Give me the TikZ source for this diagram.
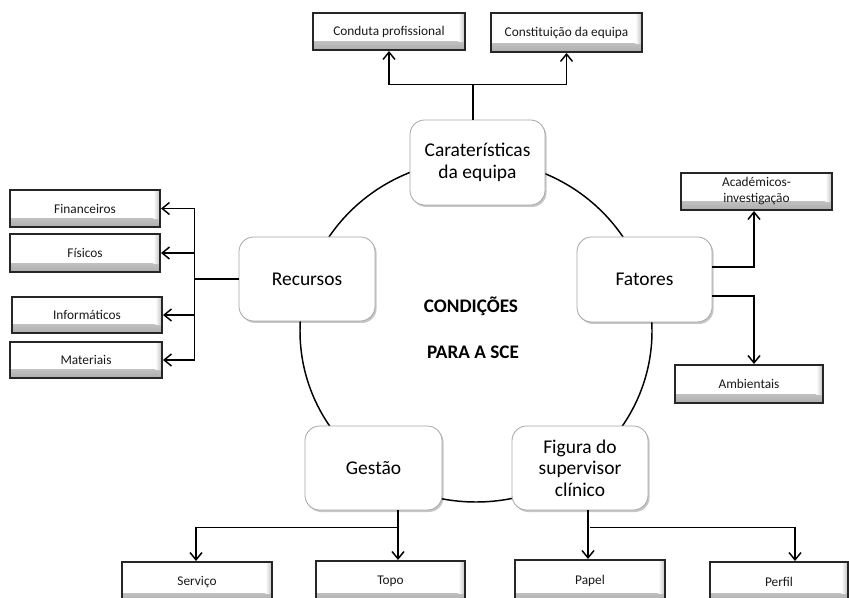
\documentclass[tikz,border=0pt]{standalone}
\usepackage{fontspec}
\setmainfont{Carlito}
\usetikzlibrary{arrows.meta,shadows,calc}

\begin{document}
\begin{tikzpicture}[x=0.75pt,y=-0.75pt,
  every node/.style={inner sep=0pt, align=center},
  topic/.style={draw=black!35, line width=0.6pt, fill=white, rounded corners=11pt,
    font=\fontsize{14.6}{16}\selectfont,
    drop shadow={shadow xshift=1.2pt, shadow yshift=-1.5pt, opacity=0.22, fill=black}},
  leaf/.style={draw=black!85, line width=1.5pt, fill=white, text=black!90,
    font=\fontsize{10}{12}\selectfont,
    path picture={
      \shade[top color=white, bottom color=black!32]
        ([yshift=6.5pt]path picture bounding box.south west) rectangle (path picture bounding box.south east);
      \shade[left color=white, right color=black!25]
        ([xshift=-5pt]path picture bounding box.north east) rectangle ([yshift=6.5pt]path picture bounding box.south east);
    }},
  link/.style={line width=1.1pt},
  arr/.style={line width=1.1pt, -{Straight Barb[length=5.5pt,width=9pt,line width=1.1pt]}},
]
\useasboundingbox (0,0) rectangle (849,598);
\fill[white] (0,0) rectangle (849,598);
\clip (0,0) rectangle (849,598);

% ring joining the five conditions
\draw[link] (476,331) ellipse [x radius=132pt, y radius=128.25pt];

% centre title
\node[font=\bfseries\fontsize{14.4}{16}\selectfont] (t1) at (471,306) {CONDIÇÕES};
\node[font=\bfseries\fontsize{14.4}{16}\selectfont] (t2) at (473,352) {PARA A SCE};

% main topics
\node[topic, minimum width=101.25pt, minimum height=63.75pt] (carat) at (477.5,162.5) {Caraterísticas\\da equipa};
\node[topic, minimum width=102pt, minimum height=63pt] (recursos) at (307,279) {Recursos};
\node[topic, minimum width=101.25pt, minimum height=63.75pt] (fatores) at (644.5,279.5) {Fatores};
\node[topic, minimum width=102.75pt, minimum height=63pt] (gestao) at (373.5,468) {Gestão};
\node[topic, minimum width=102pt, minimum height=63pt] (figura) at (580,468) {Figura do\\supervisor\\clínico};

% sub-items
\node[leaf, minimum width=114pt, minimum height=27.75pt] (conduta) at (389,31.5) {Conduta profissional};
\node[leaf, minimum width=113.25pt, minimum height=29.25pt] (constit) at (566.5,32.5) {Constituição da equipa};

\node[leaf, minimum width=112.5pt, minimum height=27.75pt] (financ) at (85,208.5) {Financeiros};
\node[leaf, minimum width=112.5pt, minimum height=28.5pt] (fisicos) at (85,253) {Físicos};
\node[leaf, minimum width=112.5pt, minimum height=27pt] (inform) at (87,315) {Informáticos};
\node[leaf, minimum width=114pt, minimum height=27pt] (mater) at (86,360) {Materiais};

\node[leaf, minimum width=113.25pt, minimum height=27.75pt] (academ) at (756.5,191.5) {Académicos-\\investigação};
\node[leaf, minimum width=111pt, minimum height=28.5pt] (ambient) at (749,384) {Ambientais};

\node[leaf, minimum width=112.5pt, minimum height=30pt] (servico) at (197,582) {Serviço};
\node[leaf, minimum width=111.75pt, minimum height=30.75pt] (topo) at (390.5,581.5) {Topo};
\node[leaf, minimum width=112.5pt, minimum height=31.5pt] (papel) at (590,581) {Papel};
\node[leaf, minimum width=103.5pt, minimum height=30pt] (perfil) at (779,582) {Perfil};

% Caraterísticas da equipa
\draw[link] (carat.north) ++(-4.5,0) -- ++(0,-35) coordinate (cj);
\draw[arr] (cj) -| (conduta.south);
\draw[arr] (cj) -| (constit.south);

% Recursos
\draw[link] (recursos.west) -- ++(-44,0) coordinate (rj);
\draw[link] (rj |- financ.east) -- (rj |- mater.east);
\foreach \n in {financ,fisicos,inform,mater}
  \draw[arr] (rj |- \n.east) -- (\n.east);

% Fatores
\draw[arr] ($(fatores.east)+(0,-12.5)$) -| ([xshift=-1.9pt]academ.south);
\draw[arr] ($(fatores.east)+(0,16.5)$) -| ([xshift=3.75pt]ambient.north);

% Gestão
\draw[link] (gestao.south) ++(24.5,0) coordinate (gs) -- ++(0,17) coordinate (gj);
\draw[arr] (gj) -- (gj |- topo.north);
\draw[arr] (gj) -| ([xshift=-0.75pt]servico.north);

% Figura do supervisor clínico
\path (figura.south) ++(8,0) coordinate (fs);
\draw[arr] (fs) -- (fs |- papel.north);
\draw[arr] ($(fs)+(2,17)$) -| ([xshift=12pt]perfil.north);
\end{tikzpicture}
\end{document}
